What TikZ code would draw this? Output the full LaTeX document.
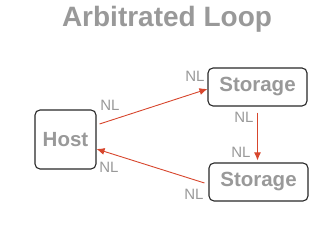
\documentclass[tikz,border=0pt]{standalone}
\usepackage{fontspec}
\setmainfont{Liberation Sans}
\usetikzlibrary{arrows.meta}
\definecolor{txtgray}{RGB}{153,153,153}
\definecolor{arrred}{RGB}{215,70,45}
\definecolor{boxline}{RGB}{40,40,40}
\begin{document}
\begin{tikzpicture}[x=1pt,y=1pt,
  box/.style={draw=boxline,line width=1.1pt,rounded corners=5pt,fill=white,
    text=txtgray,font=\fontsize{20.5}{24}\selectfont\bfseries,inner sep=0pt},
  arr/.style={draw=arrred,line width=0.9pt,-{Latex[length=8pt,width=7pt]}},
  lbl/.style={text=txtgray,font=\fontsize{15}{18}\selectfont,inner sep=0pt}]
\useasboundingbox (0,0) rectangle (334,245);
\node[text=txtgray,font=\fontsize{28}{32}\selectfont\bfseries] (title) at (167,226) {Arbitrated Loop};
\node[box,minimum width=61pt,minimum height=59pt] (host) at (65.5,105.5) {Host};
\node[box,minimum width=99pt,minimum height=38pt] (s1) at (257.5,158) {Storage};
\node[box,minimum width=99pt,minimum height=38pt] (s2) at (258.5,63) {Storage};
\draw[arr] ([xshift=3pt,yshift=15.5pt]host.east) -- ([yshift=-2pt]s1.west);
\draw[arr,shorten <=6pt,shorten >=2pt] (s1.south) -- (s1.south |- s2.north);
\draw[arr] ([xshift=-4pt,yshift=-1pt]s2.west) -- ([yshift=-9.5pt]host.east);
\node[lbl] (l1) at (110,140) {NL};
\node[lbl] (l2) at (109,78) {NL};
\node[lbl] (l3) at (195,169) {NL};
\node[lbl] (l4) at (244,128) {NL};
\node[lbl] (l5) at (241,93) {NL};
\node[lbl] (l6) at (194,51) {NL};
\end{tikzpicture}
\end{document}
